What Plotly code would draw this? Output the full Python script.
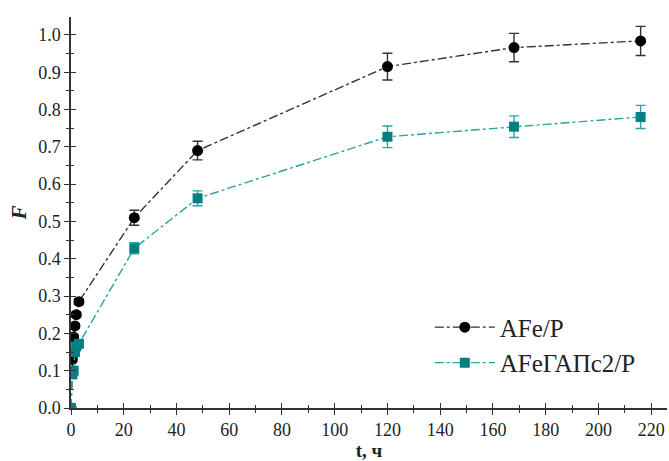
import plotly.graph_objects as go

# Sampling times, h
t_hours = [0, 0.5, 1, 1.5, 2, 3, 24, 48, 120, 168, 216]

# Fraction released, F
f_afe = [0.0, 0.13, 0.19, 0.22, 0.25, 0.285, 0.51, 0.69, 0.915, 0.966, 0.984]
err_afe = [0.0, 0.005, 0.005, 0.006, 0.007, 0.008, 0.02, 0.025, 0.036, 0.038, 0.039]

f_afegap = [0.0, 0.09, 0.10, 0.15, 0.165, 0.172, 0.428, 0.562, 0.727, 0.754, 0.780]
err_afegap = [0.0, 0.005, 0.005, 0.006, 0.006, 0.007, 0.015, 0.02, 0.029, 0.029, 0.031]

series_names = ["AFe/P", "AFeГАПс2/P"]

x_ticks = list(range(0, 221, 20))
y_ticks = [round(0.1 * i, 1) for i in range(11)]

FONT = "Liberation Serif"
AXIS_COLOR = "#333333"
TEXT_COLOR = "#222222"
BLACK = "#000000"
TEAL = "#008080"
TEAL_LINE = "#2aa3a3"

X_RANGE = [0, 226]
Y_RANGE = [0, 1.048]

fig = go.Figure()

fig.add_trace(go.Scatter(
    x=t_hours, y=f_afe, name=series_names[0], mode="lines+markers",
    line=dict(color="#333333", width=1.4, dash="dashdot"),
    marker=dict(symbol="circle", size=11, color=BLACK),
    error_y=dict(type="data", array=err_afe, visible=True,
                 color="#333333", thickness=1.4, width=5),
))
fig.add_trace(go.Scatter(
    x=t_hours, y=f_afegap, name=series_names[1], mode="lines+markers",
    line=dict(color=TEAL_LINE, width=1.4, dash="dashdot"),
    marker=dict(symbol="square", size=10, color=TEAL),
    error_y=dict(type="data", array=err_afegap, visible=True,
                 color=TEAL_LINE, thickness=1.4, width=5),
))
# empty trace that carries the inner-tick overlay axes
fig.add_trace(go.Scatter(x=[], y=[], xaxis="x2", yaxis="y2",
                         showlegend=False, hoverinfo="skip"))

tick_style = dict(showgrid=False, zeroline=False, automargin=False,
                  tickcolor=AXIS_COLOR, tickwidth=1.3)

fig.update_layout(
    width=669, height=461,
    margin=dict(l=71, r=2, t=17, b=53),
    paper_bgcolor="white", plot_bgcolor="white",
    font=dict(family=FONT, color=TEXT_COLOR, size=17),
    xaxis=dict(
        range=X_RANGE, tickmode="array", tickvals=x_ticks,
        ticks="outside", ticklen=5, showline=True,
        linecolor=AXIS_COLOR, linewidth=1.5,
        minor=dict(ticks="outside", dtick=10, tick0=0, ticklen=3,
                   tickcolor=AXIS_COLOR, tickwidth=1.2),
        tickfont=dict(family=FONT, size=18, color=TEXT_COLOR),
        title=dict(text="<b>t, ч</b>", font=dict(family=FONT, size=19, color=TEXT_COLOR),
                   standoff=8),
        **tick_style,
    ),
    yaxis=dict(
        range=Y_RANGE, tickmode="array", tickvals=y_ticks, tickformat=".1f",
        ticks="outside", ticklen=5, showline=True,
        linecolor=AXIS_COLOR, linewidth=1.5,
        minor=dict(ticks="outside", dtick=0.05, tick0=0, ticklen=3,
                   tickcolor=AXIS_COLOR, tickwidth=1.2),
        tickfont=dict(family=FONT, size=18, color=TEXT_COLOR),
        title=dict(text="<b><i>F</i></b>", font=dict(family=FONT, size=21, color=TEXT_COLOR),
                   standoff=6),
        **tick_style,
    ),
    xaxis2=dict(
        overlaying="x", anchor="y2", range=X_RANGE, tickmode="array",
        tickvals=x_ticks, ticks="inside", ticklen=5, showticklabels=False,
        showline=False,
        minor=dict(ticks="inside", dtick=10, tick0=0, ticklen=3,
                   tickcolor=AXIS_COLOR, tickwidth=1.2),
        **tick_style,
    ),
    yaxis2=dict(
        overlaying="y", anchor="x2", range=Y_RANGE, tickmode="array",
        tickvals=y_ticks, ticks="inside", ticklen=5, showticklabels=False,
        showline=False,
        minor=dict(ticks="inside", dtick=0.05, tick0=0, ticklen=3,
                   tickcolor=AXIS_COLOR, tickwidth=1.2),
        **tick_style,
    ),
    legend=dict(
        x=0.602, y=0.265, xanchor="left", yanchor="top",
        bgcolor="rgba(0,0,0,0)", borderwidth=0,
        font=dict(family=FONT, size=25, color=TEXT_COLOR),
        itemwidth=60, tracegroupgap=0,
    ),
)

fig.write_html("out.html")
